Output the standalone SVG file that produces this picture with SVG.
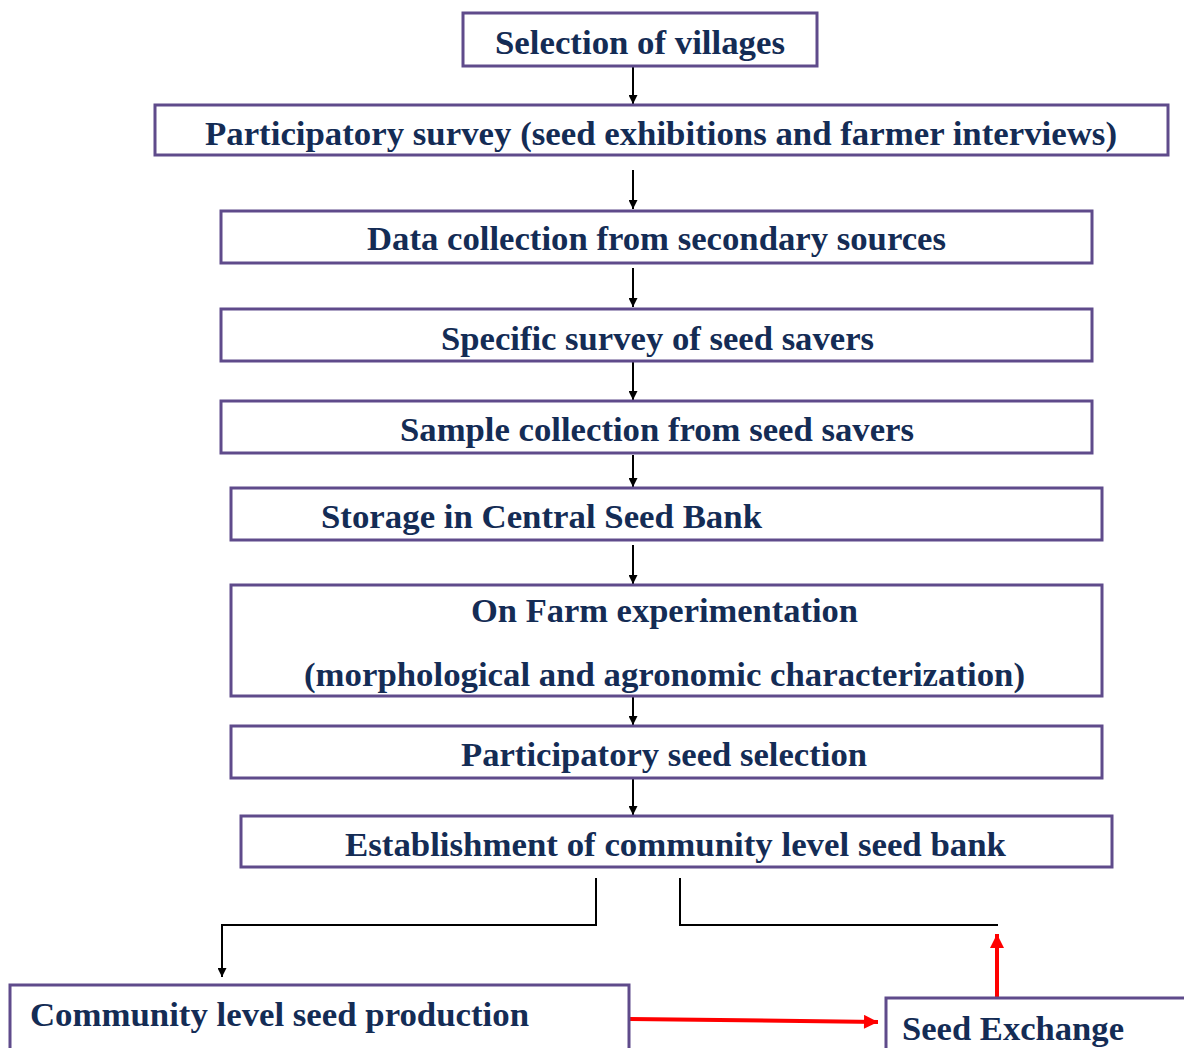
<svg xmlns="http://www.w3.org/2000/svg" width="1184" height="1048" viewBox="0 0 1184 1048">
<style>
.box{fill:#fff;stroke:#5f4b8b;stroke-width:3}
.t{font-family:"Liberation Serif","Times New Roman",serif;font-weight:bold;font-size:33px;fill:#142c55}
.c{fill:none;stroke:#000;stroke-width:2}
.r{fill:none;stroke:#f00;stroke-width:4}
</style>
<defs>
<marker id="ah" viewBox="0 0 10 10" refX="10" refY="5" markerWidth="9" markerHeight="9" markerUnits="userSpaceOnUse" orient="auto"><path d="M0,0L10,5L0,10z" fill="#000"/></marker>
<marker id="rh" viewBox="0 0 10 10" refX="10" refY="5" markerWidth="15" markerHeight="14" markerUnits="userSpaceOnUse" orient="auto"><path d="M0,0L10,5L0,10z" fill="#f00"/></marker>
</defs>
<rect width="1184" height="1048" fill="#fff"/>
<g id="connectors">
<line class="c" x1="633" y1="66" x2="633" y2="104" marker-end="url(#ah)"/>
<line class="c" x1="633" y1="170" x2="633" y2="209" marker-end="url(#ah)"/>
<line class="c" x1="633" y1="268" x2="633" y2="307" marker-end="url(#ah)"/>
<line class="c" x1="633" y1="362" x2="633" y2="400" marker-end="url(#ah)"/>
<line class="c" x1="633" y1="455" x2="633" y2="487" marker-end="url(#ah)"/>
<line class="c" x1="633" y1="545" x2="633" y2="584" marker-end="url(#ah)"/>
<line class="c" x1="633" y1="697" x2="633" y2="725" marker-end="url(#ah)"/>
<line class="c" x1="633" y1="779" x2="633" y2="815" marker-end="url(#ah)"/>
<polyline class="c" points="596,878 596,925 222,925 222,977" marker-end="url(#ah)"/>
<polyline class="c" points="680,878 680,925 998,925"/>
<line class="r" x1="997" y1="997" x2="997" y2="934" marker-end="url(#rh)"/>
<line class="r" x1="630" y1="1019" x2="878" y2="1022" marker-end="url(#rh)"/>
</g>
<g id="n1"><rect class="box" x="463" y="13" width="354" height="53"/><text class="t" x="495" y="54" textLength="290" lengthAdjust="spacingAndGlyphs">Selection of villages</text></g>
<g id="n2"><rect class="box" x="155" y="105" width="1013" height="50"/><text class="t" x="205" y="145" textLength="912" lengthAdjust="spacingAndGlyphs">Participatory survey (seed  exhibitions and farmer interviews)</text></g>
<g id="n3"><rect class="box" x="221" y="211" width="871" height="52"/><text class="t" x="367" y="250" textLength="579" lengthAdjust="spacingAndGlyphs">Data collection from secondary sources</text></g>
<g id="n4"><rect class="box" x="221" y="309" width="871" height="52"/><text class="t" x="441" y="350" textLength="433" lengthAdjust="spacingAndGlyphs">Specific survey of seed savers</text></g>
<g id="n5"><rect class="box" x="221" y="401" width="871" height="52"/><text class="t" x="400" y="441" textLength="514" lengthAdjust="spacingAndGlyphs">Sample collection from seed savers</text></g>
<g id="n6"><rect class="box" x="231" y="488" width="871" height="52"/><text class="t" x="321" y="528" textLength="441" lengthAdjust="spacingAndGlyphs">Storage in Central Seed Bank</text></g>
<g id="n7"><rect class="box" x="231" y="585" width="871" height="111"/><text class="t" x="471" y="622" textLength="387" lengthAdjust="spacingAndGlyphs">On Farm experimentation</text><text class="t" x="304" y="686" textLength="721" lengthAdjust="spacingAndGlyphs">(morphological and agronomic characterization)</text></g>
<g id="n8"><rect class="box" x="231" y="726" width="871" height="52"/><text class="t" x="461" y="766" textLength="406" lengthAdjust="spacingAndGlyphs">Participatory seed selection</text></g>
<g id="n9"><rect class="box" x="241" y="816" width="871" height="51"/><text class="t" x="345" y="856" textLength="661" lengthAdjust="spacingAndGlyphs">Establishment of community level seed bank</text></g>
<g id="n10"><rect class="box" x="10" y="985" width="619" height="80"/><text class="t" x="30" y="1026" textLength="499" lengthAdjust="spacingAndGlyphs">Community level seed production</text></g>
<g id="n11"><rect class="box" x="886" y="998" width="320" height="70"/><text class="t" x="902" y="1040" textLength="222" lengthAdjust="spacingAndGlyphs">Seed Exchange</text></g>
</svg>
